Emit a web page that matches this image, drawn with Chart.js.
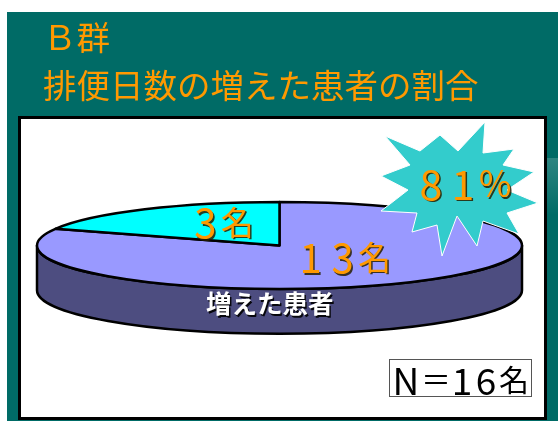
<!DOCTYPE html>
<html>
<head>
<meta charset="utf-8">
<script src="https://cdn.jsdelivr.net/npm/chart.js@4"></script>
<style>
  html, body { margin: 0; padding: 0; background: #fff; overflow: hidden; }
  canvas { display: block; }
</style>
</head>
<body>
<canvas id="c" width="558" height="421"></canvas>
<script>
// Chart text and values
const groupName = 'Ｂ群';
const chartTitle = '排便日数の増えた患者の割合';
const categories = ['増えた患者', '増えなかった患者'];
const patientCounts = [13, 3];
const sliceColors = ['#9999FF', '#00FFFF'];
const sideColors = ['#4D4D80', '#008080'];
const countUnit = '名';

const JP = '"Noto Sans CJK JP", "Noto Sans", sans-serif';
const ORANGE = '#FF9900';
const TEAL = '#006B66';
const OUTLINE = 'rgba(40,30,0,0.85)';

const total = patientCounts.reduce((a, b) => a + b, 0);
const share = Math.round(patientCounts[0] / total * 100);

// Draws a string one glyph per fixed-width cell: digits and N get a larger
// font so they read as tall as the kanji next to them.
function cells(ctx, text, midX, y, pitch, latinSize, cjkSize, color, shadow, weight) {
  const chars = Array.from(text);
  const x0 = midX - pitch * (chars.length - 1) / 2;
  ctx.save();
  ctx.textAlign = 'center';
  ctx.textBaseline = 'middle';
  ctx.fillStyle = color;
  if (shadow) {
    ctx.shadowColor = shadow;
    ctx.shadowOffsetX = 1.5;
    ctx.shadowOffsetY = 1.5;
    ctx.shadowBlur = 0.5;
  }
  chars.forEach((ch, k) => {
    let glyph = ch, size = cjkSize, dy = 0;
    if (/[0-9N]/.test(ch)) { size = latinSize; dy = 1; }
    else if (ch === '%') { glyph = '％'; size = latinSize * 0.86; dy = 1; }
    ctx.font = (weight || '') + ' ' + size + 'px ' + JP;
    ctx.fillText(glyph, x0 + k * pitch, y + dy);
  });
  ctx.restore();
}

// slide background, frame and title
const backdrop = {
  id: 'backdrop',
  beforeDraw(chart) {
    const ctx = chart.ctx;
    ctx.save();
    ctx.fillStyle = '#fff';
    ctx.fillRect(0, 0, 558, 421);
    ctx.fillStyle = TEAL;
    ctx.fillRect(7, 12, 551, 409);
    const g = ctx.createLinearGradient(0, 158, 0, 215);
    g.addColorStop(0, 'rgba(255,255,255,0.18)');
    g.addColorStop(1, 'rgba(255,255,255,0)');
    ctx.fillStyle = g;
    ctx.fillRect(546, 158, 12, 57);

    ctx.font = '33.5px ' + JP;
    ctx.fillStyle = ORANGE;
    ctx.textBaseline = 'middle';
    ctx.fillText(groupName, 43, 37);
    ctx.fillText(chartTitle, 43, 85);

    ctx.fillStyle = '#fff';
    ctx.fillRect(20, 118, 525, 300);
    ctx.lineWidth = 3;
    ctx.strokeStyle = '#000';
    ctx.strokeRect(19.5, 117.5, 526, 301);
    ctx.restore();
  }
};

// tilted 3D pie drawn from the arc angles the library computes
const pie3d = {
  id: 'pie3d',
  beforeDatasetsDraw(chart) {
    const ctx = chart.ctx;
    const meta = chart.getDatasetMeta(0);
    const ca = chart.chartArea;
    const first = meta.data[0];
    const cx = first.x, cy = first.y;
    const rx = (ca.right - ca.left) / 2;
    const ry = first.outerRadius;
    const depth = ry * 1.03;
    ctx.save();
    ctx.lineWidth = 2.5;
    ctx.lineJoin = 'round';
    ctx.strokeStyle = '#000';

    // front wall
    meta.data.forEach((arc, i) => {
      [0, 2 * Math.PI].forEach(shift => {
        const s = Math.max(arc.startAngle, shift);
        const e = Math.min(arc.endAngle, shift + Math.PI);
        if (e <= s) return;
        ctx.beginPath();
        ctx.ellipse(cx, cy, rx, ry, 0, s, e, false);
        ctx.lineTo(cx + rx * Math.cos(e), cy + ry * Math.sin(e) + depth);
        ctx.ellipse(cx, cy + depth, rx, ry, 0, e, s, true);
        ctx.closePath();
        ctx.fillStyle = sideColors[i];
        ctx.fill();
        ctx.stroke();
      });
    });

    // top faces
    meta.data.forEach((arc, i) => {
      ctx.beginPath();
      ctx.moveTo(cx, cy);
      ctx.ellipse(cx, cy, rx, ry, 0, arc.startAngle, arc.endAngle, false);
      ctx.closePath();
      ctx.fillStyle = sliceColors[i];
      ctx.fill();
      ctx.stroke();
    });
    ctx.restore();

    chart.$pieGeom = { cx, cy, rx, ry, depth };
    return false;
  },
  afterDraw(chart) {
    const ctx = chart.ctx;
    const { cx, cy, rx, ry, depth } = chart.$pieGeom;

    // burst badge with the share of patients
    const sx = 462, sy = 190;
    const burst = [
      [-77, -54], [-42, -39], [-22, -55], [-4, -39], [23, -68], [21, -37],
      [52, -41], [41, -25], [72, -18], [45, 0], [76, 13], [45, 23],
      [57, 44], [21, 31], [15, 56], [-5, 26], [-20, 66], [-25, 35],
      [-50, 42], [-45, 23], [-81, 21], [-54, 0], [-81, -14], [-52, -25]
    ];
    ctx.save();
    ctx.beginPath();
    burst.forEach(([dx, dy], k) => k ? ctx.lineTo(sx + dx, sy + dy) : ctx.moveTo(sx + dx, sy + dy));
    ctx.closePath();
    ctx.fillStyle = '#33CCCC';
    ctx.fill();
    ctx.lineWidth = 1;
    ctx.strokeStyle = '#fff';
    ctx.stroke();
    ctx.restore();
    cells(ctx, share + '%', 463, 183, 32, 41, 32, ORANGE, OUTLINE);

    // slice labels
    cells(ctx, patientCounts[1] + countUnit, cx - rx * 0.24, cy - ry * 0.54, 32, 40, 33, ORANGE, OUTLINE);
    cells(ctx, patientCounts[0] + countUnit, cx + rx * 0.26, cy + ry * 0.27, 32, 40, 33, ORANGE, OUTLINE);
    cells(ctx, categories[0], cx - rx * 0.04, cy + ry + depth * 0.33, 25.5, 25, 25.5, '#fff', 'rgba(0,0,0,0.9)', 'bold');

    // sample size box
    ctx.save();
    ctx.fillStyle = '#fff';
    ctx.fillRect(389, 359, 143, 38);
    ctx.strokeStyle = '#555';
    ctx.lineWidth = 1;
    ctx.strokeRect(389.5, 359.5, 142, 37);
    ctx.textAlign = 'center';
    ctx.textBaseline = 'middle';
    ctx.fillStyle = '#000';
    ctx.font = '37px ' + JP;
    ctx.fillText('N', 406, 381);
    ctx.font = '30px ' + JP;
    ctx.fillText('＝', 436, 380);
    ctx.font = '37px ' + JP;
    ctx.fillText(String(total)[0], 462, 381);
    ctx.fillText(String(total)[1], 486, 381);
    ctx.font = '30px ' + JP;
    ctx.fillText(countUnit, 514, 380);
    ctx.restore();
  }
};

new Chart(document.getElementById('c'), {
  type: 'pie',
  data: {
    labels: categories,
    datasets: [{ data: patientCounts, backgroundColor: sliceColors, borderWidth: 0 }]
  },
  options: {
    responsive: false,
    animation: false,
    layout: { padding: { left: 37, right: 36, top: 202, bottom: 132 } },
    plugins: { legend: { display: false }, tooltip: { enabled: false } }
  },
  plugins: [backdrop, pie3d]
});
</script>
</body>
</html>
